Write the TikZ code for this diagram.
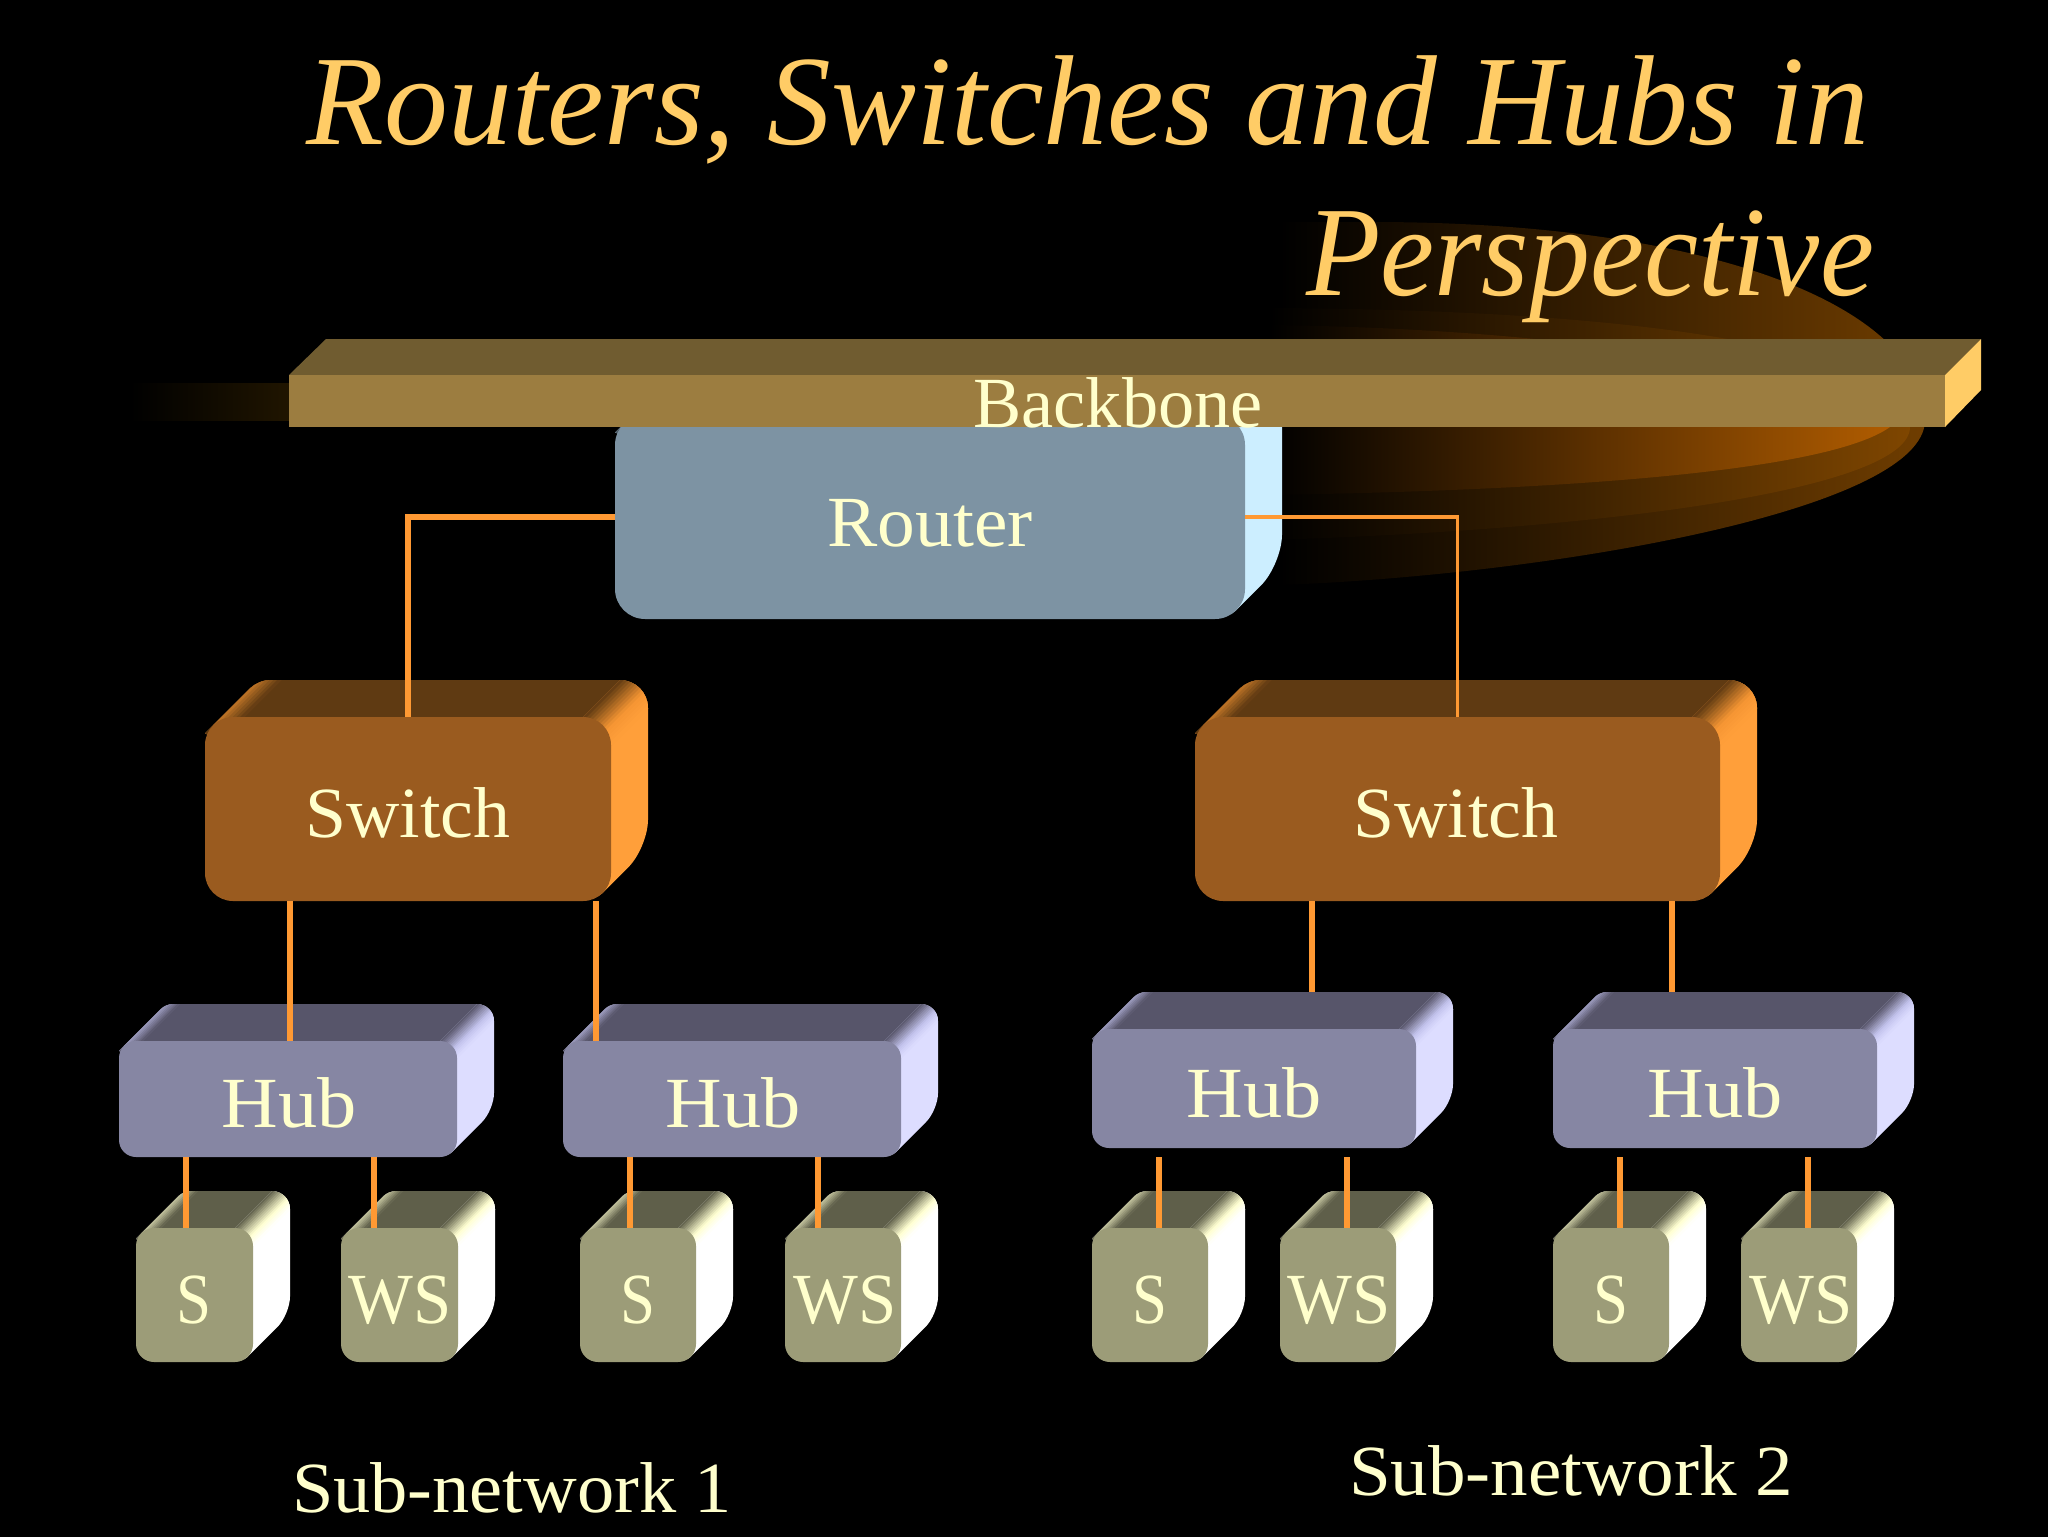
\documentclass[tikz,border=0pt]{standalone}
\usepackage{fontspec}
\usepackage{graphicx}
\setmainfont{Liberation Serif}
\usetikzlibrary{calc}
\definecolor{hubF}{HTML}{8686A3}\definecolor{hubT}{HTML}{57556A}\definecolor{hubS}{HTML}{DDDDFF}\definecolor{hubE}{HTML}{C4C4EE}
\definecolor{swF}{HTML}{9A5B1F}\definecolor{swT}{HTML}{5F3A12}\definecolor{swS}{HTML}{FF9F3A}\definecolor{swE}{HTML}{F59533}
\definecolor{wsF}{HTML}{9C9C78}\definecolor{wsT}{HTML}{5F5F4A}\definecolor{wsS}{HTML}{FFFFFF}\definecolor{wsE}{HTML}{FFFFD0}
\definecolor{rtF}{HTML}{7D93A3}\definecolor{rtT}{HTML}{4D5B66}\definecolor{rtS}{HTML}{CCEEFF}\definecolor{rtE}{HTML}{CCEEFF}
\definecolor{wireC}{HTML}{FF9933}\definecolor{labC}{HTML}{FFFFCC}\definecolor{titleC}{HTML}{FFCC66}
\definecolor{bbF}{HTML}{9C7D40}\definecolor{bbT}{HTML}{705C30}\definecolor{bbS}{HTML}{FFCC66}
\definecolor{glowA}{HTML}{6F3D00}\definecolor{glowAm}{HTML}{2E1900}
\definecolor{glowB}{HTML}{7F4600}\definecolor{glowBm}{HTML}{4A2900}
\definecolor{glowC}{HTML}{B05C00}\definecolor{glowCm}{HTML}{6A3800}
\definecolor{tailC}{HTML}{201500}
\tikzset{
  face/.style={inner sep=0pt,outer sep=0pt,draw=none},
  lab/.style={anchor=base,inner sep=0pt,outer sep=0pt,text=labC,font=\fontsize{36}{40}\selectfont},
  ttl/.style={anchor=base,inner sep=0pt,outer sep=0pt,text=titleC,font=\fontsize{64}{70}\selectfont\itshape},
  wire/.style={draw=wireC,line width=3pt},
  wirethin/.style={draw=wireC,line width=1.6pt},
}
% name x1 y1 x2 y2 r prefix
\newcommand\devbox[7]{%
  \pgfmathsetmacro\dd{37}%
  \pgfmathsetmacro\cxx{(#2+#4)/2}\pgfmathsetmacro\cyy{(#3+#5)/2}%
  \pgfmathsetmacro\ww{(#4-#2)*0.5}\pgfmathsetmacro\hh{(#5-#3)*0.5}%
  \pgfmathsetmacro\rr{#6*0.5}\pgfmathsetmacro\kk{0.586*#6}\pgfmathsetmacro\tt{0.293*#6}%
  \pgfmathsetmacro\yT{#3-\dd}\pgfmathsetmacro\xR{#4+\dd}%
  \pgfmathsetmacro\yL{#3+\kk}\pgfmathsetmacro\xA{#2+\kk+\dd}%
  \pgfmathsetmacro\yB{#5-\kk-\dd}\pgfmathsetmacro\xE{#4-\kk}%
  \pgfmathsetmacro\rs{0.4*\rr}\pgfmathsetmacro\ta{#2+\tt}\pgfmathsetmacro\tb{#3+\tt}%
  \pgfmathsetmacro\wb{0.4*#6}%
  \begin{scope}
    \clip (#2,\yL) [rounded corners=\rs pt] -- (\xA,\yT) [rounded corners=\rr pt] -- (\xR,\yT)
          -- (\xR,\yB) [rounded corners=\rs pt] -- (\xE,#5) [sharp corners] -- cycle;
    \fill[#7S] (#2-2,\yT-2) rectangle (\xR+2,#5+2);
    \fill[#7T] (#2,#3+#6) -- (#2,\yT) -- (#4-#6+\dd,\yT) -- (#4-#6,#3) -- cycle;
    % right bevel: stepped gradient across the ridge
    \foreach \i in {0,...,13}{%
      \pgfmathsetmacro\sa{\i/14*#6}\pgfmathsetmacro\sb{(\i+1.3)/14*#6}%
      \pgfmathsetmacro\ee{#6+#6}%
      \pgfmathtruncatemacro\pc{\i<9 ? (\i+0.5)/9*100 : 100}%
      \pgfmathtruncatemacro\pd{\i<9 ? 0 : (\i-8.5)/5*100}%
      \colorlet{bev}{#7S!\pd!#7E}\colorlet{bev}{bev!\pc!#7T}%
      \fill[bev] (#4-#6+\sa,#3+\sa) -- (#4-#6+\dd+\ee+\sa,\yT-\ee+\sa) -- (#4-#6+\dd+\ee+\sb,\yT-\ee+\sb) -- (#4-#6+\sb,#3+\sb) -- cycle;
    }
    % left bevel
    \foreach \i in {0,...,5}{%
      \pgfmathsetmacro\sa{\i/6*\wb}\pgfmathsetmacro\sb{(\i+1.3)/6*\wb}%
      \pgfmathtruncatemacro\pc{(5.5-\i)/6*65}%
      \colorlet{bev}{#7E!\pc!#7T}%
      \fill[bev] (\ta+\sa,\tb+\sa) -- (\ta+\dd+#6+\sa,\tb-\dd-#6+\sa) -- (\ta+\dd+#6+\sb,\tb-\dd-#6+\sb) -- (\ta+\sb,\tb+\sb) -- cycle;
    }
  \end{scope}
  \node[face,fill=#7F,rounded corners=\rr pt,minimum width=\ww pt,minimum height=\hh pt] (#1) at (\cxx,\cyy) {};
}
% name cx baseline width text
\newcommand\lbl[5]{\pgfmathsetmacro\wp{#4*0.5}\node[lab] (#1) at (#2,#3) {\resizebox{\wp pt}{\height}{#5}};}
\newcommand\wirev[3]{\coordinate (wx) at (#3,0);\draw[wire] (#1.south -| wx) -- (#2.north -| wx);}
% the right-hand hubs: wire stops at the back edge of the hub's top / starts below the hub
\newcommand\wiretop[3]{\coordinate (wx) at (#3,0);\draw[wire] (#1.south -| wx) -- ([yshift=18.5pt]#2.north -| wx);}
\newcommand\wiregap[3]{\coordinate (wx) at (#3,0);\draw[wire] ([yshift=-4.5pt]#1.south -| wx) -- (#2.north -| wx);}
\begin{document}
\begin{tikzpicture}[x=0.5pt,y=-0.5pt]
\useasboundingbox (0,0) rectangle (2048,1536);
\fill[black] (-6,-6) rectangle (2054,1542);
% glow
\shade[left color=black,middle color=glowAm,right color=glowA]
 (1280,585) .. controls (1550,575) and (1925,510) .. (1925,420) .. controls (1925,310) and (1720,222) .. (1372,222) -- (1280,222) -- cycle;
\shade[left color=black,middle color=glowBm,right color=glowB]
 (1270,540) .. controls (1600,530) and (1910,490) .. (1910,427) .. controls (1905,360) and (1700,310) .. (1270,308) -- cycle;
\shade[left color=black,middle color=glowCm,right color=glowC]
 (1270,495) .. controls (1580,490) and (1830,470) .. (1890,427) .. controls (1860,390) and (1650,330) .. (1270,325) -- cycle;
% left tail of backbone
\shade[left color=black,right color=tailC] (130,383) rectangle (290,420);
% router and backbone
\devbox{router}{615}{415}{1245}{619}{30}{rt}
\fill[bbT] (289,375) -- (326,339) -- (1981,339) -- (1945,375) -- cycle;
\fill[bbS] (1945,375) -- (1981,339) -- (1981,390) -- (1945,427) -- cycle;
\node[face,fill=bbF,minimum width=828pt,minimum height=26pt] (backbone) at (1117,401) {};
% switches
\devbox{sw1}{205}{717}{611}{901}{28}{sw}
\devbox{sw2}{1195}{717}{1720}{901}{28}{sw}
% hubs
\devbox{hub1}{119}{1041}{457}{1157}{17}{hub}
\devbox{hub2}{563}{1041}{901}{1157}{17}{hub}
\devbox{hub3}{1092}{1029}{1416}{1148}{17}{hub}
\devbox{hub4}{1553}{1029}{1877}{1148}{17}{hub}
% servers and workstations
\devbox{s1}{136}{1228}{253}{1362}{18}{ws}
\devbox{w1}{341}{1228}{458}{1362}{18}{ws}
\devbox{s2}{580}{1228}{696}{1362}{18}{ws}
\devbox{w2}{785}{1228}{901}{1362}{18}{ws}
\devbox{s3}{1092}{1228}{1208}{1362}{18}{ws}
\devbox{w3}{1280}{1228}{1396}{1362}{18}{ws}
\devbox{s4}{1553}{1228}{1669}{1362}{18}{ws}
\devbox{w4}{1741}{1228}{1857}{1362}{18}{ws}
% connectors
\draw[draw=wireC,line width=2.75pt] (router.west) -| (sw1.north);
\draw[wirethin] (router.east) -| (sw2.north);
\wirev{sw1}{hub1}{290}
\wirev{sw1}{hub2}{596}
\wiretop{sw2}{hub3}{1312}
\wiretop{sw2}{hub4}{1672}
\wirev{hub1}{s1}{186}
\wirev{hub1}{w1}{374}
\wirev{hub2}{s2}{630}
\wirev{hub2}{w2}{818}
\wiregap{hub3}{s3}{1159}
\wiregap{hub3}{w3}{1347}
\wiregap{hub4}{s4}{1620}
\wiregap{hub4}{w4}{1808}
% labels
\lbl{routerT}{930}{546}{205}{Router}
\lbl{backboneT}{1118}{427}{289}{Backbone}
\lbl{sw1T}{408}{837}{205}{Switch}
\lbl{sw2T}{1456}{837}{205}{Switch}
\lbl{hub1T}{289}{1127}{135}{Hub}
\lbl{hub2T}{733}{1127}{135}{Hub}
\lbl{hub3T}{1254}{1117}{135}{Hub}
\lbl{hub4T}{1715}{1117}{135}{Hub}
\lbl{s1T}{194}{1323}{35}{S}
\lbl{w1T}{400}{1323}{103}{WS}
\lbl{s2T}{638}{1323}{35}{S}
\lbl{w2T}{845}{1323}{103}{WS}
\lbl{s3T}{1150}{1323}{35}{S}
\lbl{w3T}{1339}{1323}{103}{WS}
\lbl{s4T}{1611}{1323}{35}{S}
\lbl{w4T}{1801}{1323}{103}{WS}
\lbl{net1}{512}{1512}{440}{Sub-network 1}
\lbl{net2}{1571}{1495}{444}{Sub-network 2}
\node[ttl] (title1) at (1088,144) {\resizebox{781pt}{\height}{Routers, Switches and Hubs in}};
\node[ttl] (title2) at (1590,295) {\resizebox{284pt}{\height}{Perspective}};
\end{tikzpicture}
\end{document}
